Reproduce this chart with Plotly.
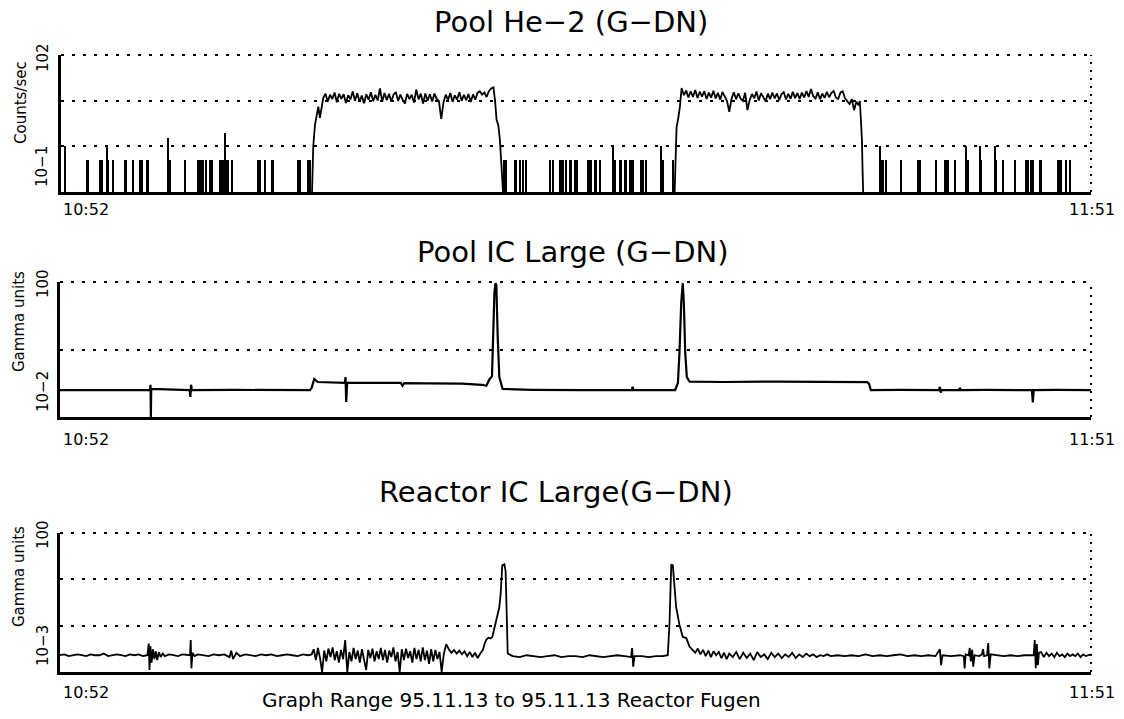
import plotly.graph_objects as go

W, H = 1124, 719

# ---------------- data (time in minutes after 10:52) ----------------
# Pool He-2: isolated count spikes
he2_spike_time = [0.23, 1.47, 1.57, 2.23, 2.33, 2.62, 2.71, 3.00, 3.67, 3.76,
                  4.14, 4.52, 4.62, 4.91, 5.00, 6.15, 6.24, 7.10, 7.86, 7.96,
                  8.06, 8.15, 8.34, 8.53, 8.63, 9.11, 9.20, 9.30, 9.39, 9.49,
                  9.58, 9.78, 11.30, 11.40, 11.68, 12.07, 12.16, 13.59, 13.69, 14.16,
                  14.26, 25.37, 25.45, 25.52, 26.00, 26.10, 26.29, 26.48, 26.67, 28.00,
                  28.20, 28.58, 28.68, 28.75, 28.96, 29.15, 29.25, 29.44, 29.54, 30.20,
                  30.30, 30.39, 30.58, 30.68, 30.87, 31.63, 31.73, 32.02, 32.11, 32.30,
                  32.40, 32.59, 32.69, 32.78, 33.26, 33.35, 33.54, 34.40, 34.50, 35.07,
                  46.91, 47.00, 47.10, 47.29, 48.15, 49.10, 49.20, 50.15, 50.63, 50.73,
                  50.82, 51.20, 51.87, 51.97, 52.63, 52.73, 53.49, 53.59, 53.97, 54.64,
                  55.31, 55.40, 55.60, 55.69, 56.07, 56.17, 57.12, 57.22, 57.31, 57.60,
                  57.79]
he2_spike_rate = [1.0, 0.5, 0.5, 0.5, 0.5, 1.0, 0.5, 0.5, 0.5, 0.5,
                  0.5, 0.5, 0.5, 0.5, 0.5, 1.5, 0.5, 0.5, 0.5, 0.5,
                  0.5, 0.5, 0.5, 0.5, 0.5, 0.5, 0.5, 0.5, 2.0, 0.5,
                  0.5, 0.5, 0.5, 0.5, 0.5, 0.5, 0.5, 0.5, 0.5, 0.5,
                  0.5, 0.5, 0.5, 0.5, 0.5, 0.5, 0.5, 0.5, 0.5, 0.5,
                  0.5, 0.5, 0.5, 0.5, 0.5, 0.5, 0.5, 0.5, 0.5, 0.5,
                  0.5, 0.5, 0.5, 0.5, 0.5, 1.0, 0.5, 0.5, 0.5, 0.5,
                  0.5, 0.5, 0.5, 0.5, 0.5, 0.5, 0.5, 1.0, 0.5, 0.5,
                  1.0, 0.5, 0.5, 0.5, 0.5, 0.5, 0.5, 0.5, 0.5, 0.5,
                  0.5, 0.5, 1.0, 0.5, 1.0, 0.5, 1.0, 0.5, 0.5, 0.5,
                  0.5, 0.5, 0.5, 0.5, 0.5, 0.5, 0.5, 0.5, 0.5, 0.5,
                  0.5]

# Pool He-2: first high-count run
he2_rise1_time = [14.38, 14.45, 14.55, 14.64, 14.74, 14.83, 14.93]
he2_rise1_rate = [0.1, 1.0, 3.0, 4.9, 7.4, 4.2, 7.0]
he2_flat1_start = 15.02
he2_flat1_step = 0.13
he2_flat1_rate = [11.4, 14.2, 9.6, 13.5, 10.9, 15.1, 9.2, 14.1, 11.0, 13.8,
                  8.9, 13.2, 10.6, 15.9, 10.0, 14.6, 9.5, 12.9, 8.8, 13.8,
                  10.5, 15.3, 9.8, 13.4, 10.1, 18.5, 9.4, 14.7, 10.3, 14.2,
                  9.5, 13.6, 15.4, 9.9, 13.6, 10.4, 8.6, 14.1, 10.8, 13.5,
                  9.1, 17.5, 10.7, 14.2, 8.7, 14.4, 10.0, 13.8, 9.6, 14.3,
                  10.9, 9.8, 4.0, 9.2, 13.5, 10.3, 14.7, 9.4, 13.1, 10.6,
                  15.3, 9.9, 13.4, 10.2, 14.0, 9.3, 13.7, 10.5, 14.8, 16.0,
                  13.6, 15.1, 12.0, 16.2, 18.5, 19.6]
he2_fall1_time = [24.86, 24.95, 25.05, 25.14, 25.24, 25.32]
he2_fall1_rate = [10.3, 3.8, 2.9, 1.4, 0.3, 0.1]

# Pool He-2: second high-count run
he2_rise2_time = [35.15, 35.26, 35.36, 35.45]
he2_rise2_rate = [0.1, 2.6, 4.2, 7.3]
he2_flat2_start = 35.55
he2_flat2_step = 0.13
he2_flat2_rate = [18.9, 13.2, 16.6, 11.8, 15.9, 12.1, 17.2, 11.4, 15.7, 12.3,
                  16.1, 10.9, 15.0, 11.6, 16.4, 11.2, 14.8, 10.5, 15.5, 11.9,
                  9.8, 5.7, 11.1, 15.3, 10.7, 14.5, 11.0, 9.9, 14.9, 6.2,
                  10.4, 14.0, 11.3, 15.8, 10.1, 14.6, 11.5, 9.7, 14.2, 10.8,
                  15.1, 11.2, 14.4, 10.3, 13.8, 15.4, 10.6, 14.1, 11.0, 15.6,
                  11.4, 14.7, 10.9, 15.0, 11.7, 16.2, 12.0, 18.0, 12.5, 11.1,
                  15.2, 10.7, 14.3, 11.5, 15.7, 11.9, 14.8, 16.3, 11.6, 10.9,
                  15.1, 16.0, 11.2, 9.6, 8.4, 10.8, 6.2, 9.5, 7.9]
he2_fall2_time = [45.76, 45.82, 45.88, 45.91, 45.95]
he2_fall2_rate = [9.8, 3.3, 1.4, 0.35, 0.1]

# Pool IC Large
ic_time = [0.00, 5.15, 5.18, 5.20, 5.22, 7.42, 7.46, 7.50, 7.55, 10.00,
           14.30, 14.40, 14.55, 14.75, 15.50, 16.30, 16.34, 16.38, 16.43, 17.50,
           19.50, 19.60, 19.70, 21.00, 23.00, 24.15, 24.40, 24.57, 24.72, 24.80,
           24.86, 24.92, 24.97, 25.05, 25.14, 25.33, 27.00, 30.00, 32.72, 32.77,
           32.82, 35.20, 35.36, 35.45, 35.55, 35.64, 35.70, 35.78, 35.87, 36.03,
           38.00, 41.00, 44.00, 46.20, 46.30, 46.40, 48.00, 50.30, 50.35, 50.40,
           50.45, 51.45, 51.50, 51.55, 53.00, 55.62, 55.67, 55.72, 57.00, 59.00]
ic_gamma = [.025, .025, .030, .010, .026, .025, .0198, .030, .025, .0252,
            .025, .027, .0366, .033, .0325, .032, .039, .0167, .032, .0322,
            .032, .029, .0318, .0315, .0312, .030, .029, .036, .040, .2,
            .7, .96, .9, .15, .039, .026, .0253, .025, .025, .028,
            .025, .025, .032, .089, .49, .96, .49, .089, .039, .0335,
            .033, .0335, .033, .0328, .031, .025, .0252, .025, .028, .023,
            .025, .025, .027, .025, .0252, .025, .0165, .025, .0252, .025]

# Reactor IC Large
rx_time = [0.00, 0.25, 0.50, 0.75, 1.00, 1.25, 1.50, 1.75, 2.00, 2.25,
           2.50, 2.75, 3.00, 3.25, 3.50, 3.75, 4.00, 4.25, 4.50, 4.75,
           5.00, 5.08, 5.12, 5.18, 5.24, 5.32, 5.40, 5.48, 5.56, 5.66,
           5.76, 5.88, 6.00, 6.25, 6.50, 6.75, 7.00, 7.25, 7.44, 7.48,
           7.52, 7.58, 7.70, 7.90, 8.20, 8.50, 8.80, 9.10, 9.40, 9.70,
           9.80, 9.90, 10.10, 10.30, 10.60, 10.90, 11.20, 11.50, 11.80, 12.10,
           12.40, 12.70, 13.00, 13.30, 13.60, 13.90, 14.20, 14.40, 14.52, 14.64,
           14.76, 14.88, 15.00, 15.12, 15.24, 15.36, 15.48, 15.60, 15.72, 15.84,
           15.96, 16.08, 16.20, 16.32, 16.44, 16.56, 16.68, 16.80, 16.92, 17.04,
           17.16, 17.28, 17.40, 17.52, 17.64, 17.76, 17.88, 18.00, 18.12, 18.24,
           18.36, 18.48, 18.60, 18.72, 18.84, 18.96, 19.08, 19.20, 19.32, 19.44,
           19.56, 19.68, 19.80, 19.92, 20.04, 20.16, 20.28, 20.40, 20.52, 20.64,
           20.76, 20.88, 21.00, 21.12, 21.24, 21.36, 21.48, 21.60, 21.72, 21.84,
           21.96, 22.10, 22.25, 22.40, 22.55, 22.70, 22.85, 23.00, 23.15, 23.30,
           23.45, 23.60, 23.75, 23.90, 24.05, 24.20, 24.30, 24.40, 24.52, 24.64,
           24.74, 24.86, 24.97, 25.14, 25.22, 25.31, 25.43, 25.50, 25.56, 25.62,
           25.90, 26.30, 26.70, 27.10, 27.50, 27.90, 28.30, 28.70, 29.10, 29.50,
           29.90, 30.30, 30.70, 31.10, 31.50, 31.90, 32.30, 32.68, 32.74, 32.80,
           32.88, 33.30, 33.70, 34.10, 34.50, 34.78, 34.88, 34.98, 35.07, 35.17,
           35.26, 35.45, 35.64, 35.84, 36.03, 36.20, 36.35, 36.50, 36.65, 36.80,
           36.95, 37.10, 37.25, 37.40, 37.55, 37.70, 37.85, 38.00, 38.15, 38.30,
           38.50, 38.70, 38.90, 39.10, 39.30, 39.50, 39.70, 39.90, 40.10, 40.30,
           40.50, 40.70, 40.90, 41.10, 41.30, 41.50, 41.70, 41.90, 42.10, 42.30,
           42.50, 42.70, 42.90, 43.10, 43.30, 43.50, 43.70, 43.90, 44.10, 44.50,
           44.90, 45.30, 45.70, 46.10, 46.50, 46.90, 47.30, 47.70, 48.10, 48.50,
           48.90, 49.30, 49.70, 50.10, 50.35, 50.42, 50.50, 51.00, 51.50, 51.72,
           51.77, 51.83, 52.00, 52.06, 52.12, 52.20, 52.26, 52.34, 52.60, 52.76,
           52.82, 52.88, 53.05, 53.12, 53.18, 53.26, 53.60, 54.00, 54.40, 54.80,
           55.20, 55.50, 55.72, 55.78, 55.84, 55.90, 55.96, 56.02, 56.15, 56.30,
           56.45, 56.60, 56.75, 56.90, 57.05, 57.20, 57.35, 57.50, 57.65, 57.80,
           57.95, 58.10, 58.25, 58.40, 58.55, 58.70, 58.85, 59.00]
rx_gamma = [.0023, .0024, .0022, .0023, .0024, .0023, .0022, .0024, .0023, .0023,
            .0025, .0022, .0023, .0024, .0023, .0022, .0024, .0023, .0024, .0022,
            .0023, .0041, .0011, .0036, .0016, .0031, .0019, .0028, .0018, .0027,
            .0021, .0025, .0022, .0024, .0023, .0022, .0024, .0023, .0023, .0049,
            .0012, .0026, .0022, .0024, .0023, .0022, .0024, .0023, .0024, .0021,
            .0029, .0019, .0026, .0022, .0024, .0023, .0022, .0024, .0023, .0024,
            .0022, .0023, .0024, .0023, .0022, .0024, .0023, .0024, .0031, .0018,
            .0033, .0020, .0010, .0029, .0017, .0032, .0021, .0034, .0018, .0028,
            .0016, .0030, .0019, .0049, .0010, .0027, .0017, .0033, .0019, .0029,
            .0016, .0031, .0018, .0011, .0030, .0020, .0032, .0017, .0028, .0019,
            .0033, .0018, .0030, .0016, .0029, .0021, .0034, .0017, .0027, .0010,
            .0031, .0018, .0032, .0020, .0028, .0016, .0033, .0019, .0030, .0017,
            .0034, .0018, .0029, .0015, .0031, .0017, .0030, .0019, .0027, .0010,
            .0024, .0040, .0031, .0026, .0030, .0025, .0029, .0024, .0028, .0022,
            .0027, .0021, .0026, .0020, .0025, .0030, .0041, .0050, .0055, .0053,
            .0057, .0090, .014, .025, .05, .20, .21, .15, .02, .0025,
            .0022, .0021, .0023, .0022, .0021, .0022, .0023, .0021, .0022, .0022,
            .0021, .0023, .0022, .0021, .0022, .0023, .0022, .0021, .0033, .0013,
            .0022, .0022, .0021, .0022, .0022, .0023, .0114, .21, .20, .059,
            .025, .0104, .0057, .0054, .0035, .0030, .0026, .0032, .0024, .0030,
            .0022, .0029, .0021, .0028, .0023, .0027, .0020, .0026, .0019, .0025,
            .0021, .0027, .0019, .0026, .0020, .0025, .0018, .0027, .0021, .0024,
            .0019, .0026, .0021, .0025, .0020, .0024, .0021, .0026, .0020, .0024,
            .0021, .0025, .0022, .0024, .0021, .0023, .0022, .0024, .0022, .0023,
            .0022, .0023, .0022, .0024, .0022, .0023, .0022, .0023, .0024, .0022,
            .0023, .0022, .0023, .0022, .0031, .0014, .0023, .0022, .0023, .0022,
            .0012, .0024, .0023, .0033, .0017, .0030, .0013, .0023, .0022, .0024,
            .0031, .0022, .0023, .0042, .0012, .0024, .0023, .0022, .0023, .0022,
            .0023, .0023, .0023, .0049, .0012, .0040, .0014, .0026, .0027, .0021,
            .0026, .0022, .0025, .0021, .0026, .0022, .0024, .0021, .0025, .0022,
            .0024, .0022, .0025, .0021, .0024, .0022, .0023, .0024]

titles = ["Pool He\u22122 (G\u2212DN)", "Pool IC Large (G\u2212DN)", "Reactor IC Large(G\u2212DN)"]
y_titles = ["Counts/sec", "Gamma units", "Gamma units"]
y_top_labels = ["102", "100", "100"]
y_bottom_labels = ["10\u22121", "10\u22122", "10\u22123"]
time_labels = ["10:52", "11:51"]
caption = "Graph Range 95.11.13 to 95.11.13 Reactor Fugen"

# ---------------- build series ----------------
def run_series(rise_t, rise_v, start, step, flat_v, fall_t, fall_v):
    flat_t = [round(start + i * step, 3) for i in range(len(flat_v))]
    return rise_t + flat_t + fall_t, rise_v + flat_v + fall_v

run1_t, run1_v = run_series(he2_rise1_time, he2_rise1_rate, he2_flat1_start, he2_flat1_step,
                            he2_flat1_rate, he2_fall1_time, he2_fall1_rate)
run2_t, run2_v = run_series(he2_rise2_time, he2_rise2_rate, he2_flat2_start, he2_flat2_step,
                            he2_flat2_rate, he2_fall2_time, he2_fall2_rate)

# ---------------- layout geometry (pixels) ----------------
def px(x):
    return x / W

def py(y):
    return 1 - y / H

panels = [
    dict(left=61, right=1091, top=55, bottom=192, yrange=[-1, 2], grid=[1, 10]),
    dict(left=60, right=1091, top=282, bottom=417, yrange=[-2, 0], grid=[0.1]),
    dict(left=60, right=1091, top=533, bottom=672, yrange=[-3, 0], grid=[0.01, 0.1]),
]

FONT = "DejaVu Sans"
DOT = "3px,8px"

fig = go.Figure()
line_style = dict(color="black", width=1.8)

fig.add_trace(go.Bar(x=he2_spike_time, y=he2_spike_rate, width=0.075,
                     marker=dict(color="black", line=dict(width=0)),
                     xaxis="x", yaxis="y"))
fig.add_trace(go.Scatter(x=run1_t, y=run1_v, mode="lines", line=line_style, xaxis="x", yaxis="y"))
fig.add_trace(go.Scatter(x=run2_t, y=run2_v, mode="lines", line=line_style, xaxis="x", yaxis="y"))
fig.add_trace(go.Scatter(x=ic_time, y=ic_gamma, mode="lines", line=dict(color="black", width=2.2),
                         xaxis="x2", yaxis="y2"))
fig.add_trace(go.Scatter(x=rx_time, y=rx_gamma, mode="lines", line=dict(color="black", width=1.8),
                         xaxis="x3", yaxis="y3"))

layout = dict(width=W, height=H, margin=dict(l=0, r=0, t=0, b=0),
              paper_bgcolor="white", plot_bgcolor="white", showlegend=False,
              bargap=0, font=dict(family=FONT, color="black"))
shapes = []
annotations = []
for i, p in enumerate(panels):
    sx = "" if i == 0 else str(i + 1)
    layout["xaxis" + sx] = dict(domain=[px(p["left"]), px(p["right"])], range=[0, 59],
                                anchor="y" + sx, showline=True, linecolor="black", linewidth=3,
                                showgrid=False, zeroline=False, showticklabels=False,
                                ticks="inside", tickvals=[59], ticklen=8, tickwidth=2,
                                tickcolor="black", fixedrange=True)
    layout["yaxis" + sx] = dict(domain=[py(p["bottom"]), py(p["top"])], type="log",
                                range=p["yrange"], anchor="x" + sx, showline=True,
                                linecolor="black", linewidth=2.5, showgrid=True,
                                gridcolor="black", gridwidth=2, griddash=DOT,
                                tickmode="array", tickvals=p["grid"], showticklabels=False,
                                ticks="", zeroline=False, fixedrange=True)
    xd, yd = "x" + sx + " domain", "y" + sx + " domain"
    shapes.append(dict(type="line", xref=xd, yref=yd, x0=0, x1=1, y0=1, y1=1,
                       line=dict(color="black", width=2, dash=DOT)))
    shapes.append(dict(type="line", xref=xd, yref=yd, x0=1, x1=1, y0=0, y1=1,
                       line=dict(color="black", width=2, dash="2px,6px")))

# titles
title_pos = [(571, 22), (572, 252), (556, 492)]
for t, (x, y) in zip(titles, title_pos):
    annotations.append(dict(text=t, x=px(x), y=py(y), xref="paper", yref="paper",
                            xanchor="center", yanchor="middle", showarrow=False,
                            font=dict(size=29, family=FONT, color="black")))
# y titles and decade labels
ytitle_pos = [(21, 103), (19, 322), (19, 577)]
top_pos = [(43, 58), (43, 284), (43, 535)]
bot_pos = [(42, 167), (43, 392), (43, 646)]
for i in range(3):
    for txt, (x, y), fs in [(y_titles[i], ytitle_pos[i], 15),
                            (y_top_labels[i], top_pos[i], 15),
                            (y_bottom_labels[i], bot_pos[i], 15)]:
        annotations.append(dict(text=txt, x=px(x), y=py(y), xref="paper", yref="paper",
                                xanchor="center", yanchor="middle", textangle=-90,
                                showarrow=False, font=dict(size=fs, family=FONT, color="black")))
# time labels
time_y = [209, 440, 692]
for i in range(3):
    annotations.append(dict(text=time_labels[0], x=px(61), y=py(time_y[i]), xref="paper",
                            yref="paper", xanchor="left", yanchor="middle", showarrow=False,
                            font=dict(size=16, family=FONT, color="black")))
    annotations.append(dict(text=time_labels[1], x=px(1092), y=py(time_y[i]), xref="paper",
                            yref="paper", xanchor="center", yanchor="middle", showarrow=False,
                            font=dict(size=16, family=FONT, color="black")))
annotations.append(dict(text=caption, x=px(511), y=py(700), xref="paper", yref="paper",
                        xanchor="center", yanchor="middle", showarrow=False,
                        font=dict(size=20, family=FONT, color="black")))

layout["shapes"] = shapes
layout["annotations"] = annotations
fig.update_layout(**layout)
fig.write_html("out.html")
